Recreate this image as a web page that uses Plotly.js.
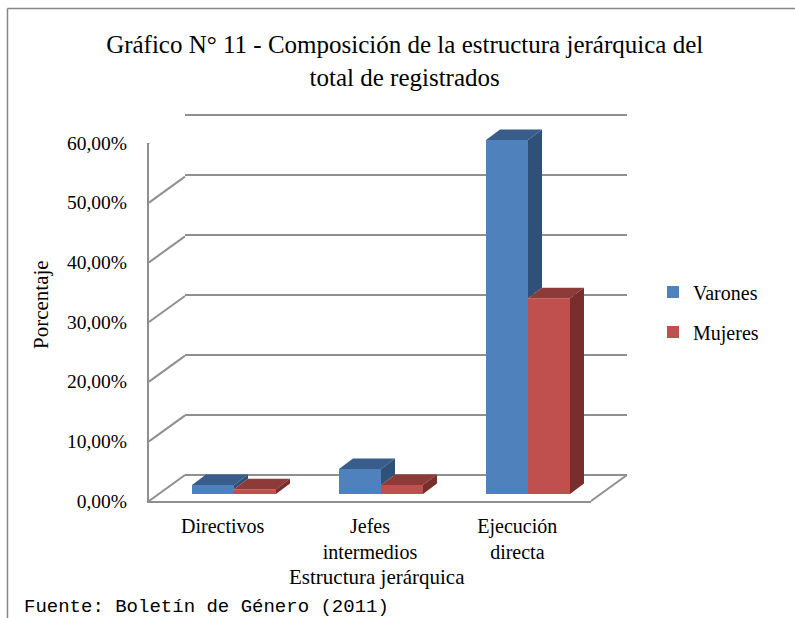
<!DOCTYPE html>
<html>
<head>
<meta charset="utf-8">
<script src="https://cdn.plot.ly/plotly-3.0.1.min.js"></script>
<style>html,body{margin:0;padding:0;background:#fff;}</style>
</head>
<body>
<div id="chart" style="width:795px;height:618px;"></div>
<script>
// ---- data ----
const categories = ['Directivos', 'Jefes<br>intermedios', 'Ejecución<br>directa'];
const seriesNames = ['Varones', 'Mujeres'];
const varones = [1.5, 4.2, 59.3];
const mujeres = [0.8, 1.5, 32.8];
const yTicks = [0, 10, 20, 30, 40, 50, 60];
const yTickLabels = ['0,00%', '10,00%', '20,00%', '30,00%', '40,00%', '50,00%', '60,00%'];

// ---- geometry helpers ----
const W = 795, H = 618;
const fx = v => v / W;
const fy = v => 1 - v / H;
const FONT = 'Liberation Serif, Times New Roman, serif';
const GRID = '#8f8f8f';

const xPos = categories.map((c, i) => i);
const BW = 42 / 147;        // bar width in category units
const DDX = 14 / 147;       // depth offset (x, category units)
const DDY = 10.5 / 5.97;    // depth offset (y, percent units)

const colors = {
  Varones: {front: '#4F81BD', top: '#395d8a', side: '#2f5078'},
  Mujeres: {front: '#C0504D', top: '#8e3a38', side: '#772e2c'}
};

const traces = [
  {type: 'scatter', x: [], y: [], xaxis: 'x', yaxis: 'y', showlegend: false, hoverinfo: 'skip'},
  {type: 'scatter', x: [], y: [], xaxis: 'x3', yaxis: 'y3', showlegend: false, hoverinfo: 'skip'},
  {type: 'bar', name: seriesNames[0], x: xPos, y: varones, xaxis: 'x2', yaxis: 'y2',
   offset: -BW, width: BW, legendgroup: 'v',
   marker: {color: colors.Varones.front, line: {width: 0}}},
  {type: 'bar', name: seriesNames[1], x: xPos, y: mujeres, xaxis: 'x2', yaxis: 'y2',
   offset: 0, width: BW, legendgroup: 'm',
   marker: {color: colors.Mujeres.front, line: {width: 0}}}
];

function face(pts, color) {
  return {type: 'path', xref: 'x2', yref: 'y2', layer: 'above',
    path: 'M' + pts.map(p => p[0] + ',' + p[1]).join('L') + 'Z',
    fillcolor: color, line: {width: 0}};
}

const shapes = [];
// 3D faces of bars
xPos.forEach((x, i) => {
  const vV = varones[i], vM = mujeres[i];
  const xl = x - BW, xm = x, xr = x + BW;
  shapes.push(face([[xl, vV], [xm, vV], [xm + DDX, vV + DDY], [xl + DDX, vV + DDY]], colors.Varones.top));
  if (vV > vM) shapes.push(face([[xm, vM], [xm, vV], [xm + DDX, vV + DDY], [xm + DDX, vM + DDY]], colors.Varones.side));
  shapes.push(face([[xm, vM], [xr, vM], [xr + DDX, vM + DDY], [xm + DDX, vM + DDY]], colors.Mujeres.top));
  shapes.push(face([[xr, 0], [xr, vM], [xr + DDX, vM + DDY], [xr + DDX, DDY]], colors.Mujeres.side));
});
// side wall diagonals at each tick
yTicks.forEach(v => {
  shapes.push({type: 'line', xref: 'paper', yref: 'y3', ysizemode: 'pixel', yanchor: v,
    x0: fx(149), x1: fx(185), y0: 0, y1: 26, line: {color: GRID, width: 2}});
});
// floor right edge
shapes.push({type: 'line', xref: 'paper', yref: 'paper', x0: fx(591), y0: fy(501), x1: fx(627), y1: fy(475),
  line: {color: GRID, width: 2}});
// outer frame (top and left)
shapes.push({type: 'line', xref: 'paper', yref: 'paper', x0: fx(7.5), y0: fy(8.5), x1: 1, y1: fy(8.5),
  line: {color: '#868686', width: 1.5}});
shapes.push({type: 'line', xref: 'paper', yref: 'paper', x0: fx(7.5), y0: fy(8.5), x1: fx(7.5), y1: 0,
  line: {color: '#868686', width: 1.5}});

const layout = {
  width: W, height: H, autosize: false,
  margin: {l: 0, r: 0, t: 0, b: 0, pad: 0},
  paper_bgcolor: '#ffffff', plot_bgcolor: 'rgba(0,0,0,0)',
  separators: ',.',
  font: {family: FONT, size: 20, color: '#000'},
  barmode: 'overlay',
  title: {text: 'Gráfico N° 11 - Composición de la estructura jerárquica del<br>total de registrados',
    x: 0.509, xanchor: 'center', y: fy(53), yanchor: 'middle',
    font: {family: FONT, size: 25, color: '#000'}},
  showlegend: true,
  legend: {x: fx(653), xanchor: 'left', y: fy(312), yanchor: 'middle',
    font: {family: FONT, size: 20, color: '#000'}, tracegroupgap: 11,
    bgcolor: 'rgba(0,0,0,0)', borderwidth: 0},
  // back wall
  xaxis: {domain: [fx(185), fx(627)], range: [0, 1], visible: false, fixedrange: true},
  yaxis: {domain: [fy(481), fy(109)], range: [-1, 61], anchor: 'x', tickvals: yTicks,
    showgrid: true, gridcolor: GRID, gridwidth: 2, zeroline: false, showline: false,
    showticklabels: false, ticks: '', fixedrange: true},
  // bar plane
  xaxis2: {domain: [fx(160.5), fx(601.5)], range: [-0.5, 2.5], anchor: 'y2', visible: false, fixedrange: true},
  yaxis2: {domain: [fy(499.97), fy(123.9)], range: [-1, 62], anchor: 'x2', visible: false, fixedrange: true},
  // front axes
  xaxis3: {domain: [fx(149), fx(591)], range: [-0.5, 2.5], anchor: 'y3',
    tickvals: xPos, ticktext: categories, ticks: '', showgrid: false, zeroline: false,
    showline: true, linecolor: GRID, linewidth: 2, ticklabelstandoff: 6,
    tickfont: {family: FONT, size: 20, color: '#000'}, fixedrange: true},
  yaxis3: {domain: [fy(501), fy(143)], range: [0, 60], anchor: 'x3',
    tickvals: yTicks, ticktext: yTickLabels, ticks: '', showgrid: false, zeroline: false,
    showline: true, linecolor: GRID, linewidth: 2, ticklabelstandoff: 16,
    tickfont: {family: FONT, size: 19.5, color: '#000'}, fixedrange: true},
  shapes: shapes,
  annotations: [
    {text: 'Porcentaje', textangle: -90, xref: 'paper', yref: 'paper', x: fx(41), y: fy(305),
     xanchor: 'center', yanchor: 'middle', showarrow: false, font: {family: FONT, size: 21, color: '#000'}},
    {text: 'Estructura jerárquica', xref: 'paper', yref: 'paper', x: fx(377), y: fy(577),
     xanchor: 'center', yanchor: 'middle', showarrow: false, font: {family: FONT, size: 21, color: '#000'}},
    {text: 'Fuente: Boletín de Género (2011)', xref: 'paper', yref: 'paper', x: fx(22), y: fy(607),
     xanchor: 'left', yanchor: 'middle', showarrow: false,
     font: {family: 'Liberation Mono, Courier New, monospace', size: 19, color: '#000'}}
  ]
};

Plotly.newPlot('chart', traces, layout, {displayModeBar: false, staticPlot: true});
</script>
</body>
</html>
